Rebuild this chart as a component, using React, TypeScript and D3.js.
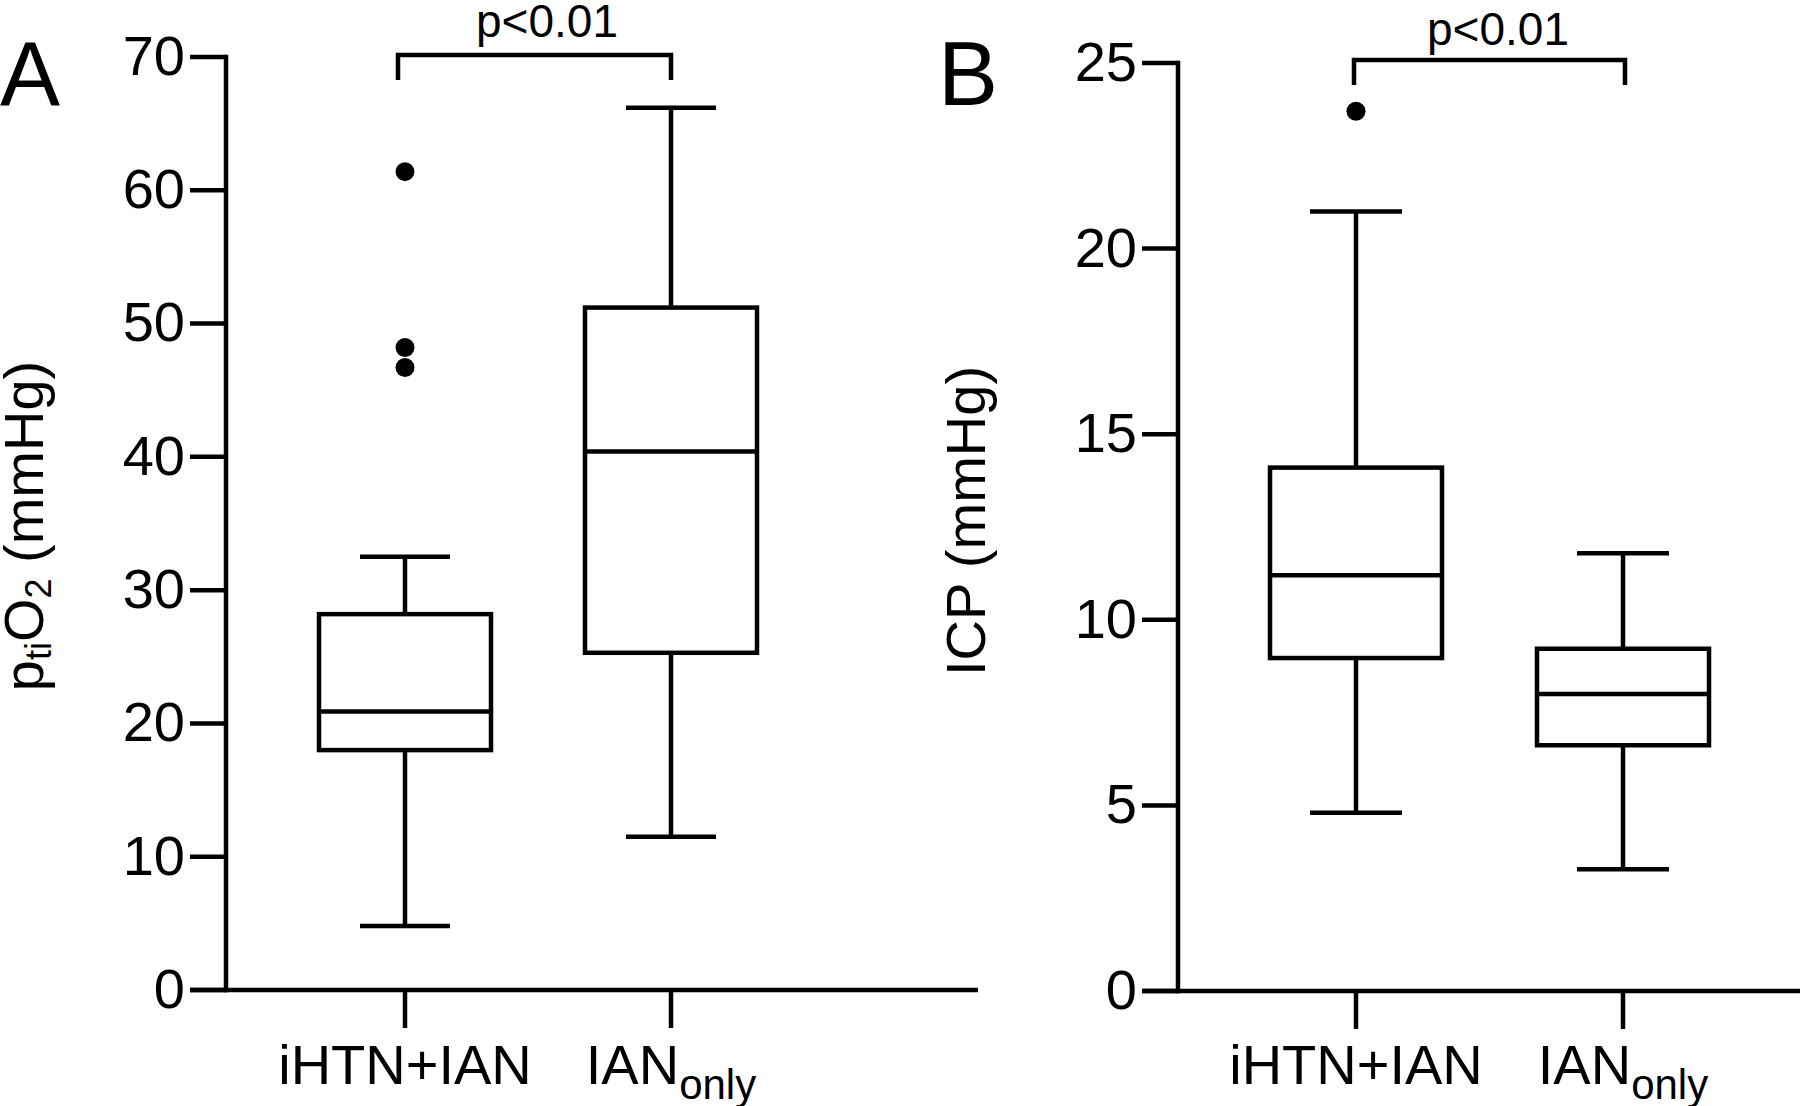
import React from "react";
import * as d3 from "d3";

const groups = ["iHTN+IAN", "IANonly"];

// Panel A: ptiO2 (mmHg)
const ptio2Stats = [
  { group: "iHTN+IAN", low: 4.8, q1: 18.0, median: 20.9, q3: 28.2, high: 32.5 },
  { group: "IANonly", low: 11.5, q1: 25.3, median: 40.4, q3: 51.2, high: 66.2 },
];
const ptio2Outliers = [
  { group: "iHTN+IAN", value: 61.4 },
  { group: "iHTN+IAN", value: 48.2 },
  { group: "iHTN+IAN", value: 46.7 },
];
const ptio2Ticks = [0, 10, 20, 30, 40, 50, 60, 70];

// Panel B: ICP (mmHg)
const icpStats = [
  { group: "iHTN+IAN", low: 4.8, q1: 8.97, median: 11.2, q3: 14.1, high: 21.0 },
  { group: "IANonly", low: 3.28, q1: 6.62, median: 8.0, q3: 9.22, high: 11.79 },
];
const icpOutliers = [{ group: "iHTN+IAN", value: 23.7 }];
const icpTicks = [0, 5, 10, 15, 20, 25];

const pLabel = "p<0.01";

const FONT = "'Liberation Sans', Arial, Helvetica, sans-serif";
const SW = 4.5;

type Stat = { group: string; low: number; q1: number; median: number; q3: number; high: number };
type Out = { group: string; value: number };

function Panel(props: {
  stats: Stat[];
  outliers: Out[];
  ticks: number[];
  yMax: number;
  yRange: [number, number];
  axisX: number;
  xEnd: number;
  centers: [number, number];
  boxW: number;
  capW: number;
  label: string;
  labelX: number;
  ylabel: React.ReactNode;
  ylabelX: number;
  ylabelY: number;
  bracket: { x1: number; x2: number; y: number; y2: number; tx: number; ty: number };
}) {
  const y = d3.scaleLinear().domain([0, props.yMax]).range(props.yRange);
  const x = d3.scalePoint<string>().domain(groups).range(props.centers).padding(0);
  const tickLen = 36;
  const y0 = y(0);
  const b = props.bracket;
  return (
    <g>
      <text x={props.labelX} y={105} fontSize={90} fontFamily={FONT}>
        {props.label}
      </text>
      {/* y axis */}
      <line x1={props.axisX} x2={props.axisX} y1={y0 + SW / 2} y2={y(props.yMax) - SW / 2} stroke="#000" strokeWidth={SW} />
      {props.ticks.map((t) => (
        <g key={t}>
          <line x1={props.axisX - tickLen} x2={props.axisX} y1={y(t)} y2={y(t)} stroke="#000" strokeWidth={SW} />
          <text
            x={props.axisX - tickLen - 5}
            y={y(t)}
            dy="0.32em"
            textAnchor="end"
            fontSize={56}
            fontFamily={FONT}
          >
            {t}
          </text>
        </g>
      ))}
      {/* x axis */}
      <line x1={props.axisX - tickLen} x2={props.xEnd} y1={y0} y2={y0} stroke="#000" strokeWidth={SW} />
      {groups.map((g) => (
        <g key={g}>
          <line x1={x(g)} x2={x(g)} y1={y0} y2={y0 + 38} stroke="#000" strokeWidth={SW} />
          <text x={x(g)} y={1084} textAnchor="middle" fontSize={56} fontFamily={FONT}>
            {g === "IANonly" ? (
              <>
                <tspan>IAN</tspan>
                <tspan fontSize={42} dy={15}>only</tspan>
              </>
            ) : (
              g
            )}
          </text>
        </g>
      ))}
      {/* boxes */}
      {props.stats.map((s) => {
        const cx = x(s.group) as number;
        const hw = props.boxW / 2;
        const cw = props.capW / 2;
        return (
          <g key={s.group} stroke="#000" strokeWidth={SW} fill="none">
            <line x1={cx} x2={cx} y1={y(s.high)} y2={y(s.q3)} />
            <line x1={cx} x2={cx} y1={y(s.q1)} y2={y(s.low)} />
            <line x1={cx - cw} x2={cx + cw} y1={y(s.high)} y2={y(s.high)} />
            <line x1={cx - cw} x2={cx + cw} y1={y(s.low)} y2={y(s.low)} />
            <rect x={cx - hw} y={y(s.q3)} width={props.boxW} height={y(s.q1) - y(s.q3)} fill="#fff" />
            <line x1={cx - hw} x2={cx + hw} y1={y(s.median)} y2={y(s.median)} />
          </g>
        );
      })}
      {props.outliers.map((o, i) => (
        <circle key={i} cx={x(o.group)} cy={y(o.value)} r={9.5} fill="#000" />
      ))}
      {/* significance bracket */}
      <path
        d={`M${b.x1},${b.y2}V${b.y}H${b.x2}V${b.y2}`}
        fill="none"
        stroke="#000"
        strokeWidth={SW}
      />
      <text x={b.tx} y={b.ty} textAnchor="middle" fontSize={46} fontFamily={FONT}>
        {pLabel}
      </text>
      <text
        transform={`translate(${props.ylabelX},${props.ylabelY}) rotate(-90)`}
        textAnchor="middle"
        fontSize={56}
        fontFamily={FONT}
      >
        {props.ylabel}
      </text>
    </g>
  );
}

export default function App() {
  return (
    <svg
      width={1800}
      height={1106}
      style={{ position: "absolute", left: 0, top: 0, background: "#fff" }}
    >
      <rect width={1800} height={1106} fill="#fff" />
      <Panel
        stats={ptio2Stats}
        outliers={ptio2Outliers}
        ticks={ptio2Ticks}
        yMax={70}
        yRange={[990, 57]}
        axisX={226}
        xEnd={978}
        centers={[405, 671]}
        boxW={172}
        capW={90}
        label="A"
        labelX={0}
        ylabel={
          <>
            <tspan>p</tspan>
            <tspan fontSize={36} dy={8}>ti</tspan>
            <tspan dy={-8}>O</tspan>
            <tspan fontSize={36} dy={8}>2</tspan>
            <tspan dy={-8}> (mmHg)</tspan>
          </>
        }
        ylabelX={43}
        ylabelY={526}
        bracket={{ x1: 398, x2: 671, y: 55, y2: 80, tx: 547, ty: 37 }}
      />
      <Panel
        stats={icpStats}
        outliers={icpOutliers}
        ticks={icpTicks}
        yMax={25}
        yRange={[991, 63]}
        axisX={1178}
        xEnd={1800}
        centers={[1356, 1623]}
        boxW={172}
        capW={92}
        label="B"
        labelX={938}
        ylabel={"ICP (mmHg)"}
        ylabelX={985}
        ylabelY={521}
        bracket={{ x1: 1354, x2: 1625, y: 60, y2: 85, tx: 1498, ty: 45 }}
      />
    </svg>
  );
}
